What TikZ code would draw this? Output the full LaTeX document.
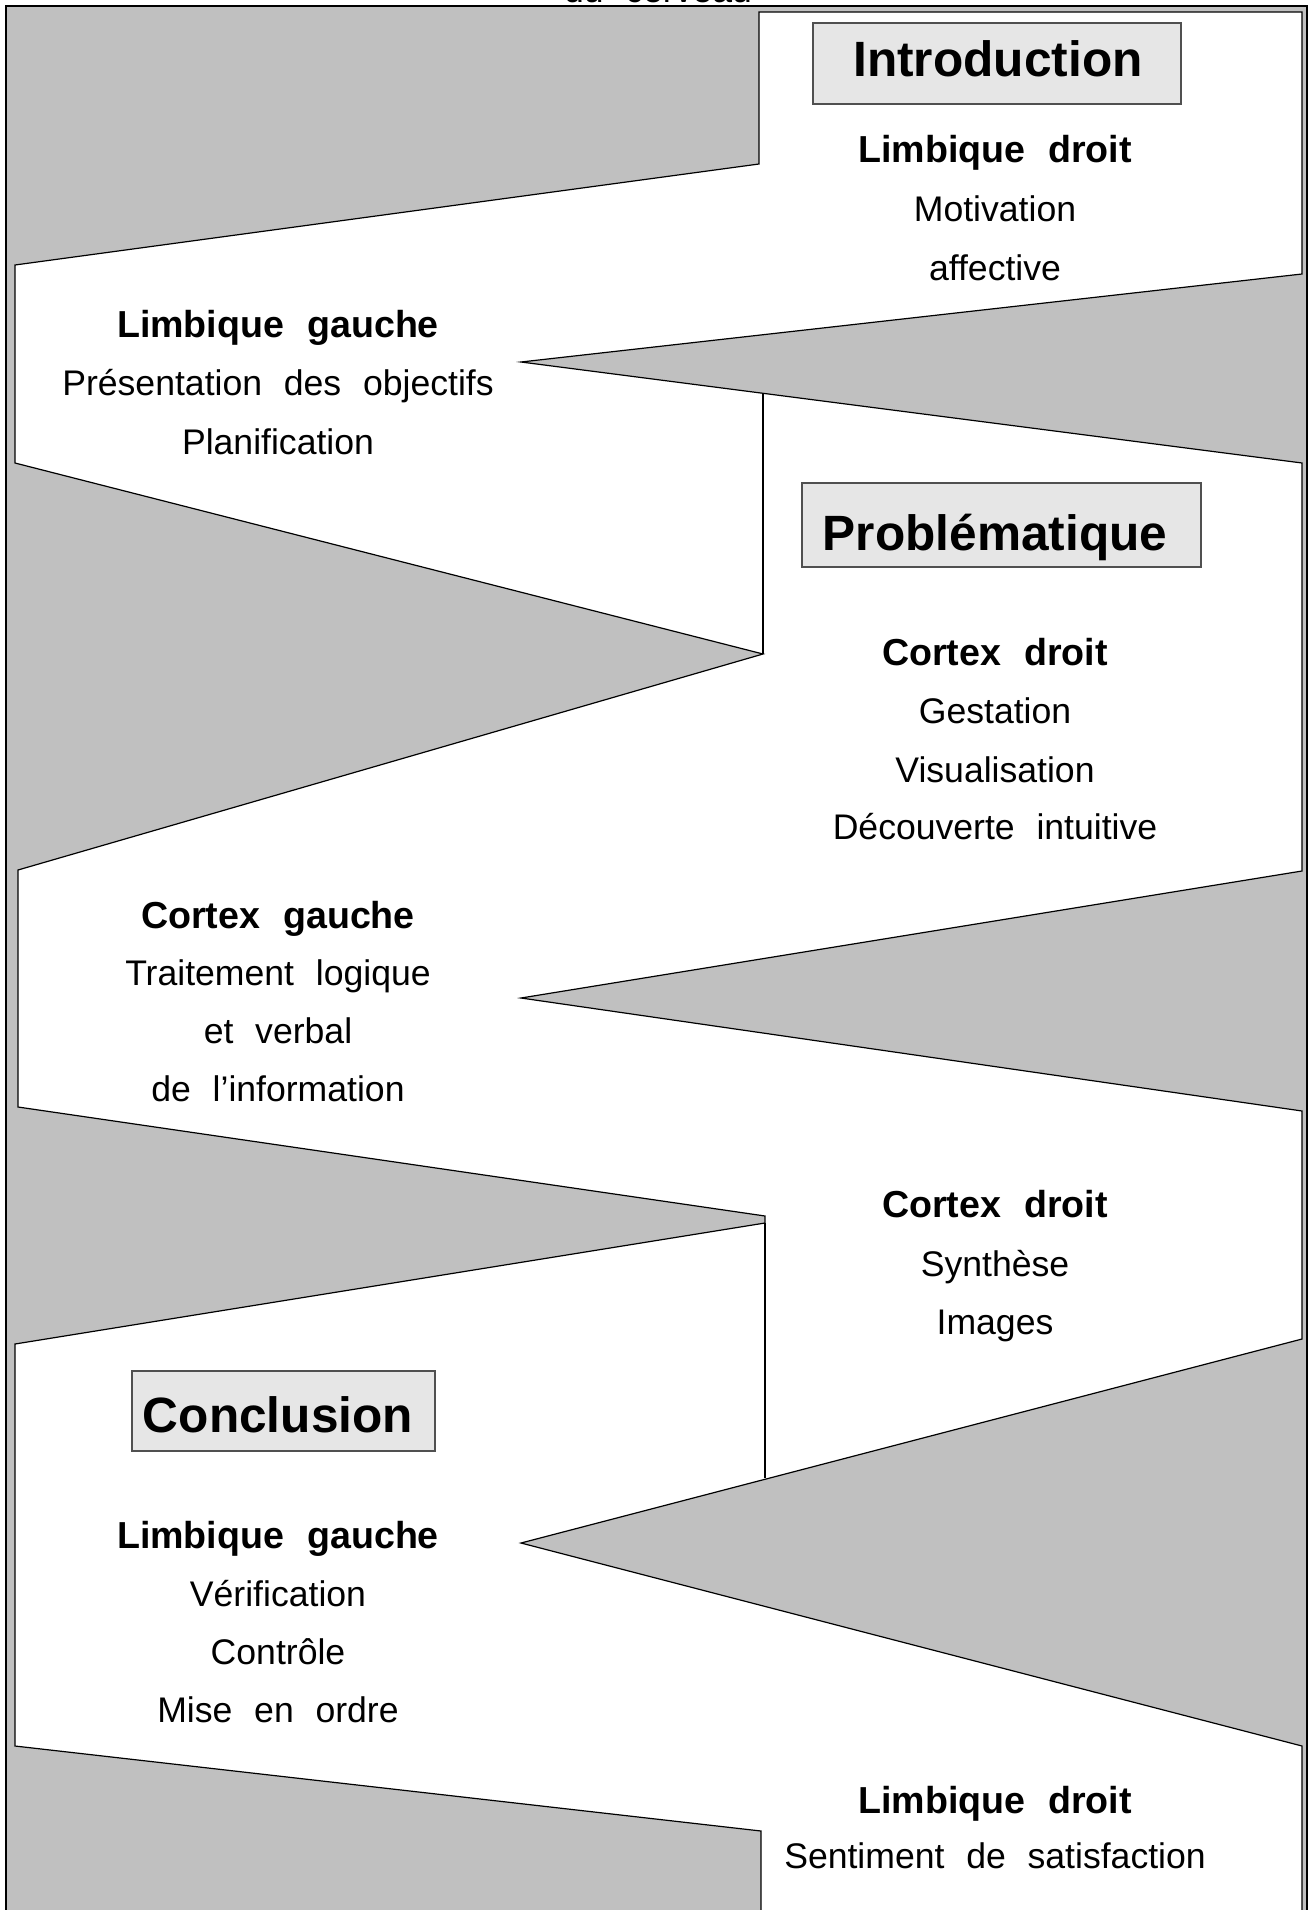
\documentclass[tikz,border=0pt]{standalone}
\usepackage{fontspec}
\setmainfont{Liberation Sans}[WordSpace=2.2]
\definecolor{bandgray}{HTML}{C0C0C0}
\definecolor{boxgray}{HTML}{E6E6E6}
\definecolor{boxline}{HTML}{505050}
\begin{document}
\begin{tikzpicture}[x=0.5pt,y=-0.5pt,
  txt/.style={font=\fontsize{17.8}{21}\selectfont, anchor=base, inner sep=0pt},
  head/.style={font=\fontsize{18.8}{22}\selectfont\bfseries, anchor=base, inner sep=0pt},
  ttl/.style={font=\fontsize{24.8}{29}\selectfont\bfseries, anchor=base, inner sep=0pt},
  tbox/.style={draw=boxline, fill=boxgray, line width=0.7pt, inner sep=0pt},
  band/.style={draw=black, fill=white, line width=0.6pt, line join=miter},
  seam/.style={draw=black, line width=0.6pt}]
\useasboundingbox (0,0) rectangle (1308,1910);
% frame
\draw[fill=bandgray, line width=0.8pt] (6,6) rectangle (1307,1940);
% cut title at top
\node[txt] (cut) at (658,3) {du cerveau};
% white zigzag band
\path[band] (759,12) -- (1302,12) -- (1302,274) -- (521,362) -- (1302,463)
  -- (1302,871) -- (521,998) -- (1302,1111) -- (1302,1339) -- (521,1543)
  -- (1302,1746) -- (1302,1940) -- (761,1940) -- (761,1831) -- (15,1746)
  -- (15,1344) -- (765,1223) -- (765,1216) -- (18,1107) -- (18,870)
  -- (763,654) -- (15,463) -- (15,265) -- (759,164) -- cycle;
% inner seams
\coordinate (s1a) at (763,394);
\coordinate (s1b) at (763,654);
\coordinate (s2a) at (765,1223);
\coordinate (s2b) at (765,1478);
\draw[seam] (s1a) -- (s1b);
\draw[seam] (s2a) -- (s2b);
% title boxes (sizes in pt = px/2)
\node[tbox, minimum width=184pt, minimum height=40.5pt] (bintro) at (997,63.5) {};
\node[ttl] (tintro) at (998,77) {Introduction};
\node[tbox, minimum width=199.5pt, minimum height=42pt] (bprob) at (1001.5,525) {};
\node[ttl] (tprob) at (995,550) {Problématique};
\node[tbox, minimum width=151.5pt, minimum height=40pt] (bconc) at (283.5,1411) {};
\node[ttl] (tconc) at (278,1432) {Conclusion};
% right column
\node[head] (r1) at (995,163) {Limbique droit};
\node[txt] (r2) at (995,222) {Motivation};
\node[txt] (r3) at (995,280) {affective};
\node[head] (r4) at (995,665) {Cortex droit};
\node[txt] (r5) at (995,723) {Gestation};
\node[txt] (r6) at (995,782) {Visualisation};
\node[txt] (r7) at (995,839) {Découverte intuitive};
\node[head] (r8) at (995,1217) {Cortex droit};
\node[txt] (r9) at (995,1276) {Synthèse};
\node[txt] (r10) at (995,1334) {Images};
\node[head] (r11) at (995,1813) {Limbique droit};
\node[txt] (r12) at (995,1868) {Sentiment de satisfaction};
% left column
\node[head] (l1) at (278,337) {Limbique gauche};
\node[txt] (l2) at (278,395) {Présentation des objectifs};
\node[txt] (l3) at (278,454) {Planification};
\node[head] (l4) at (278,928) {Cortex gauche};
\node[txt] (l5) at (278,985) {Traitement logique};
\node[txt] (l6) at (278,1043) {et verbal};
\node[txt] (l7) at (278,1101) {de l’information};
\node[head] (l8) at (278,1548) {Limbique gauche};
\node[txt] (l9) at (278,1606) {Vérification};
\node[txt] (l10) at (278,1664) {Contrôle};
\node[txt] (l11) at (278,1722) {Mise en ordre};
\end{tikzpicture}
\end{document}
